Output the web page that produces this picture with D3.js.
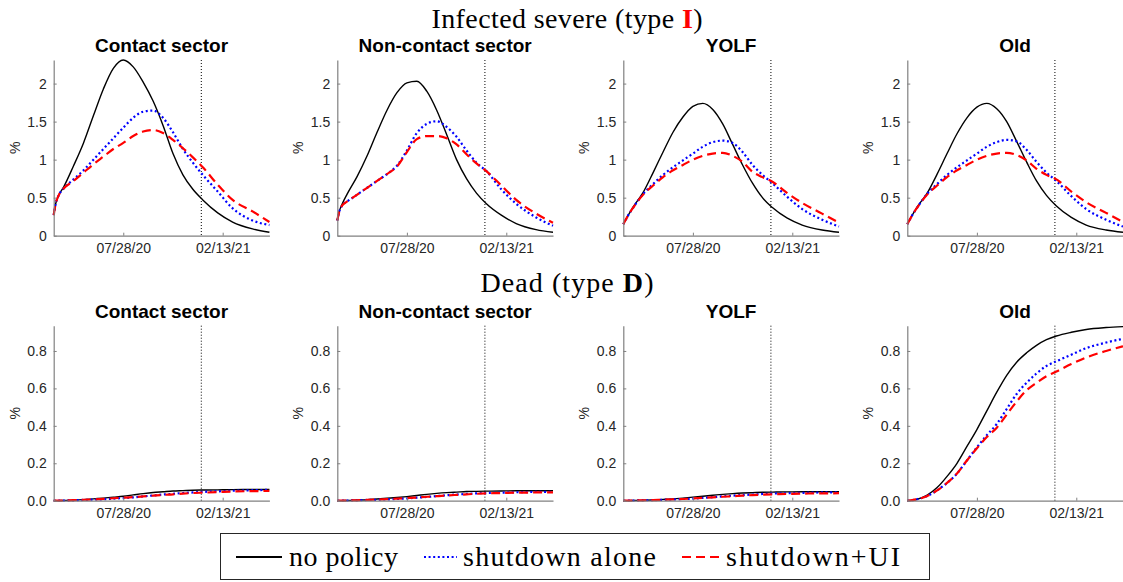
<!DOCTYPE html>
<html>
<head>
<meta charset="utf-8">
<script src="https://cdn.jsdelivr.net/npm/d3@7"></script>
<style>
body { margin: 0; background: #fff; }
svg { display: block; }
</style>
</head>
<body>
<div id="chart"></div>
<script>
// time axis: days since the start of the simulation
const startDate = new Date(2020, 2, 10)
const endDay = 434
const policyDay = 297 // 01/01/21, dotted line
const days = [0, 4, 10, 20, 40, 60, 80, 100, 120, 140, 160, 180, 200, 220, 240, 260, 280, 300, 330, 360, 400, 434]
const xTickDates = ["07/28/20", "02/13/21"]

const panelNames = ["Contact sector", "Non-contact sector", "YOLF", "Old"]
const seriesNames = ["no policy", "shutdown alone", "shutdown+UI"]
const infTicks = [0, 0.5, 1, 1.5, 2]
const deadTicks = [0, 0.2, 0.4, 0.6, 0.8]

// infected severe (%), per sector / group
const infContactNone = [.27, .42, .53, .64, .92, 1.22, 1.58, 1.93, 2.2, 2.31, 2.22, 2.02, 1.77, 1.45, 1.08, .80, .61, .47, .30, .18, .09, .045]
const infContactShut = [.27, .42, .53, .62, .74, .86, 1.0, 1.14, 1.28, 1.42, 1.55, 1.63, 1.645, 1.55, 1.36, 1.14, .96, .80, .58, .36, .20, .14]
const infContactUI   = [.27, .42, .53, .62, .72, .83, .94, 1.04, 1.14, 1.22, 1.31, 1.37, 1.39, 1.35, 1.26, 1.15, 1.03, .90, .67, .47, .32, .18]

const infNonNone = [.2, .32, .42, .55, .78, 1.05, 1.36, 1.65, 1.88, 2.01, 2.03, 1.9, 1.65, 1.33, 1.0, .75, .56, .42, .27, .16, .08, .045]
const infNonShut = [.2, .32, .40, .45, .54, .63, .72, .81, .92, 1.12, 1.35, 1.47, 1.505, 1.43, 1.3, 1.12, .96, .85, .61, .42, .24, .13]
const infNonUI   = [.2, .32, .40, .45, .54, .63, .72, .81, .91, 1.1, 1.27, 1.31, 1.31, 1.28, 1.2, 1.07, .95, .85, .66, .47, .29, .17]

const infYolfNone = [.15, .2, .27, .38, .57, .83, 1.1, 1.36, 1.56, 1.7, 1.74, 1.66, 1.47, 1.2, .93, .69, .5, .37, .23, .14, .075, .045]
const infYolfShut = [.15, .2, .27, .37, .55, .68, .8, .9, .99, 1.08, 1.17, 1.23, 1.25, 1.22, 1.1, .93, .8, .69, .51, .35, .21, .12]
const infYolfUI   = [.15, .2, .27, .37, .54, .66, .77, .86, .93, 1.0, 1.05, 1.08, 1.09, 1.05, .97, .84, .77, .71, .56, .43, .29, .17]

const infOldNone = [.15, .2, .27, .38, .56, .81, 1.08, 1.34, 1.55, 1.69, 1.74, 1.67, 1.5, 1.24, .97, .72, .53, .39, .24, .14, .075, .045]
const infOldShut = [.15, .2, .27, .37, .55, .68, .8, .9, .99, 1.08, 1.17, 1.23, 1.26, 1.24, 1.13, .97, .83, .72, .52, .35, .21, .12]
const infOldUI   = [.15, .2, .27, .37, .54, .66, .77, .86, .93, 1.0, 1.05, 1.08, 1.09, 1.06, .99, .88, .8, .74, .58, .44, .30, .18]

// dead (%), per sector / group
const deadContactNone = [0, 0, .0005, .001, .003, .006, .01, .014, .019, .024, .031, .038, .044, .048, .052, .054, .056, .057, .058, .059, .06, .06]
const deadContactShut = [0, 0, .0005, .001, .002, .004, .006, .008, .011, .014, .018, .023, .028, .033, .037, .041, .044, .047, .05, .053, .056, .058]
const deadContactUI   = [0, 0, .0005, .001, .003, .005, .007, .01, .013, .016, .019, .023, .027, .031, .034, .038, .041, .043, .046, .049, .051, .052]

const deadNonNone = [0, 0, .0004, .001, .003, .005, .009, .013, .017, .022, .028, .034, .039, .043, .046, .049, .05, .051, .052, .053, .053, .053]
const deadNonShut = [0, 0, .0004, .001, .002, .004, .005, .007, .009, .012, .016, .02, .025, .029, .033, .036, .039, .041, .043, .045, .047, .048]
const deadNonUI   = [0, 0, .0004, .001, .002, .004, .006, .008, .011, .014, .017, .021, .024, .028, .031, .034, .037, .039, .041, .043, .044, .045]

const deadYolfNone = [0, 0, .0004, .001, .002, .004, .007, .01, .014, .019, .024, .029, .034, .038, .041, .043, .045, .046, .047, .048, .048, .048]
const deadYolfShut = [0, 0, .0004, .001, .002, .003, .005, .007, .009, .011, .015, .019, .023, .027, .03, .033, .036, .038, .04, .042, .044, .045]
const deadYolfUI   = [0, 0, .0004, .001, .002, .003, .005, .007, .009, .012, .015, .018, .021, .024, .027, .03, .032, .034, .036, .038, .039, .04]

const deadOldNone = [0, .001, .003, .008, .03, .07, .13, .2, .29, .38, .48, .58, .67, .74, .79, .83, .86, .88, .9, .915, .925, .93]
const deadOldShut = [0, .001, .003, .008, .025, .055, .095, .145, .215, .285, .35, .41, .49, .57, .63, .68, .72, .745, .78, .815, .845, .865]
const deadOldUI   = [0, .001, .003, .008, .025, .055, .095, .145, .215, .28, .34, .39, .46, .53, .59, .63, .665, .69, .73, .765, .80, .825]

const infData = [
	[infContactNone, infContactShut, infContactUI],
	[infNonNone, infNonShut, infNonUI],
	[infYolfNone, infYolfShut, infYolfUI],
	[infOldNone, infOldShut, infOldUI]
]
const deadData = [
	[deadContactNone, deadContactShut, deadContactUI],
	[deadNonNone, deadNonShut, deadNonUI],
	[deadYolfNone, deadYolfShut, deadYolfUI],
	[deadOldNone, deadOldShut, deadOldUI]
]

const width = 1123
const height = 582
const panelLeft = [53.7, 337.3, 623.3, 907.3]
const panelWidth = 215.7
const rows = [
	{ top: 60, bottom: 235.7, max: 2.31, ticks: infTicks, data: infData, fmt: d3.format("") },
	{ top: 325.7, bottom: 500.7, max: 0.935, ticks: deadTicks, data: deadData, fmt: d3.format(".1f") }
]

// line styles for the three policies
const styles = [
	{ color: "#000000", width: 1.4, dash: null },
	{ color: "#0000ff", width: 2.2, dash: "2,2.6" },
	{ color: "#ff0000", width: 2.2, dash: "9,5" }
]

const serif = "'Liberation Serif', 'Times New Roman', serif"
const sans = "'Liberation Sans', Arial, sans-serif"

const parseDate = d3.timeParse("%m/%d/%y")
const dates = days.map(d => d3.timeDay.offset(startDate, d))

const svg = d3.select("#chart")
	.append("svg")
	.attr("width", width)
	.attr("height", height)
	.style("font-family", sans)

// row titles (palatino in the original, so stretch the serif a bit)
function rowTitle(y, label, letter, letterColor, len) {
	const t = svg.append("text")
		.attr("x", 567)
		.attr("y", y)
		.attr("text-anchor", "middle")
		.attr("textLength", len)
		.attr("lengthAdjust", "spacing")
		.style("font-family", serif)
		.style("font-size", "28px")
		.attr("fill", "#000")
	t.append("tspan").text(label + " (type ")
	t.append("tspan").attr("font-weight", "bold").attr("fill", letterColor).text(letter)
	t.append("tspan").text(")")
}
rowTitle(28, "Infected severe", "I", "#ff0000", 271)
rowTitle(292, "Dead", "D", "#000", 173)

rows.forEach(function(row) {
	const y = d3.scaleLinear()
		.domain([0, row.max])
		.range([row.bottom, row.top])

	panelLeft.forEach(function(left, p) {
		const x = d3.scaleTime()
			.domain([startDate, d3.timeDay.offset(startDate, endDay)])
			.range([left, left + panelWidth])

		const g = svg.append("g")

		// subplot title
		g.append("text")
			.attr("x", left + panelWidth / 2)
			.attr("y", row.top - 8)
			.attr("text-anchor", "middle")
			.attr("font-weight", "bold")
			.style("font-size", "19px")
			.attr("fill", "#000")
			.text(panelNames[p])

		// policy date
		g.append("line")
			.attr("x1", x(d3.timeDay.offset(startDate, policyDay)))
			.attr("x2", x(d3.timeDay.offset(startDate, policyDay)))
			.attr("y1", row.top)
			.attr("y2", row.bottom)
			.attr("stroke", "#000")
			.attr("stroke-width", 1)
			.attr("stroke-dasharray", "1,2")

		const line = d3.line()
			.x((d, i) => x(dates[i]))
			.y(d => y(d))
			.curve(d3.curveMonotoneX)

		g.append("g")
			.attr("fill", "none")
			.attr("stroke-linejoin", "round")
			.selectAll("path")
			.data(row.data[p])
			.join("path")
			.attr("stroke", (d, i) => styles[i].color)
			.attr("stroke-width", (d, i) => styles[i].width)
			.attr("stroke-dasharray", (d, i) => styles[i].dash)
			.attr("d", d => line(d))

		// axes, matlab style with inward ticks
		const xAxis = g.append("g")
			.attr("transform", `translate(0,${row.bottom})`)
			.call(d3.axisBottom(x)
				.tickValues(xTickDates.map(parseDate))
				.tickFormat(d3.timeFormat("%m/%d/%y"))
				.tickSizeInner(-3)
				.tickSizeOuter(0)
				.tickPadding(7))
		xAxis.select(".domain").attr("stroke", "#808080").attr("stroke-width", 1.2)
		xAxis.selectAll(".tick line").attr("stroke", "#808080")
		xAxis.selectAll(".tick text")
			.attr("fill", "#262626")
			.style("font-size", "14px")
			.style("font-family", sans)

		const yAxis = g.append("g")
			.attr("transform", `translate(${left},0)`)
			.call(d3.axisLeft(y)
				.tickValues(row.ticks)
				.tickFormat(row.fmt)
				.tickSizeInner(-3)
				.tickSizeOuter(0)
				.tickPadding(7))
		yAxis.select(".domain").attr("stroke", "#808080").attr("stroke-width", 1.2)
		yAxis.selectAll(".tick line").attr("stroke", "#808080")
		yAxis.selectAll(".tick text")
			.attr("fill", "#262626")
			.style("font-size", "14px")
			.style("font-family", sans)

		g.append("text")
			.attr("transform", `translate(${left - 34},${(row.top + row.bottom) / 2}) rotate(-90)`)
			.attr("text-anchor", "middle")
			.style("font-size", "14px")
			.attr("fill", "#262626")
			.text("%")
	})
})

// legend
const legend = svg.append("g")
legend.append("rect")
	.attr("x", 220.5)
	.attr("y", 533.5)
	.attr("width", 709)
	.attr("height", 46)
	.attr("fill", "#fff")
	.attr("stroke", "#262626")
	.attr("stroke-width", 1)

const legendItems = [
	{ x1: 236, x2: 282, tx: 289, len: 109 },
	{ x1: 424, x2: 457, tx: 463, len: 193 },
	{ x1: 682, x2: 720, tx: 726, len: 174 }
]
legendItems.forEach(function(item, i) {
	legend.append("line")
		.attr("x1", item.x1)
		.attr("x2", item.x2)
		.attr("y1", 557)
		.attr("y2", 557)
		.attr("stroke", styles[i].color)
		.attr("stroke-width", i == 0 ? 2 : 2.2)
		.attr("stroke-dasharray", styles[i].dash)
	legend.append("text")
		.attr("x", item.tx)
		.attr("y", 566)
		.attr("textLength", item.len)
		.attr("lengthAdjust", "spacing")
		.style("font-family", serif)
		.style("font-size", "28px")
		.attr("fill", "#000")
		.text(seriesNames[i])
})
</script>
</body>
</html>
